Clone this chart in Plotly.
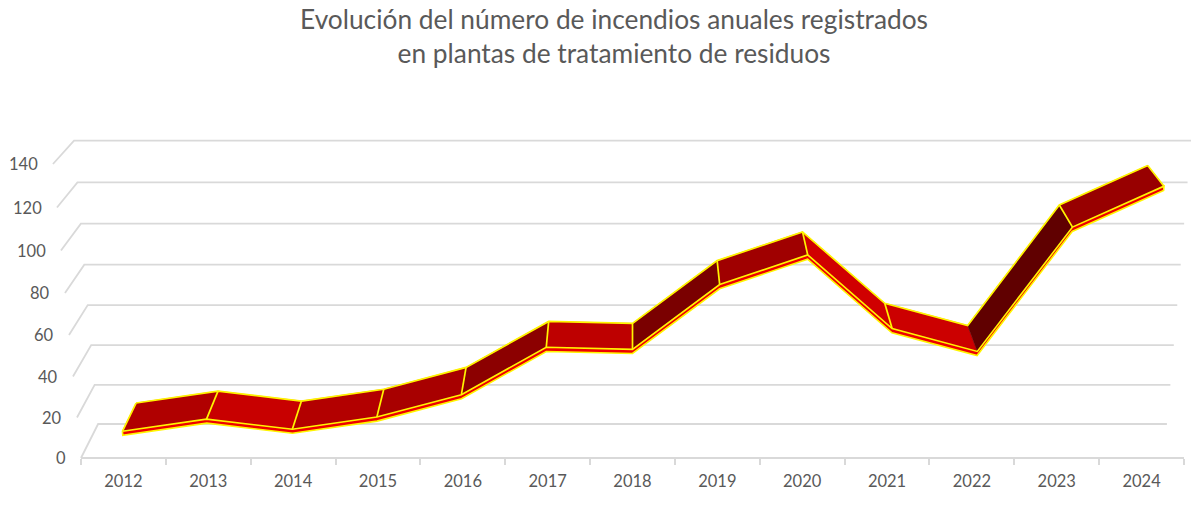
import plotly.graph_objects as go

# Annual fire counts
YEARS = ["2012", "2013", "2014", "2015", "2016", "2017", "2018",
         "2019", "2020", "2021", "2022", "2023", "2024"]
FIRES = [11, 17, 12, 18, 29, 52, 51, 82, 96, 61, 50, 109, 128]
VALUE_TICKS = [0, 20, 40, 60, 80, 100, 120, 140]
TITLE = "Evolución del número de incendios anuales registrados<br>en plantas de tratamiento de residuos"

# Lighting of each ribbon panel, one per pair of consecutive years
PANEL_SHADES = ["#B00000", "#C80000", "#B30000", "#A80000", "#8C0000", "#BE0000",
                "#7A0000", "#A00000", "#D00000", "#CC0000", "#600000", "#980000"]

GRID = "#D9D9D9"
TEXT = "#595959"
EDGE = "#FFF500"
FRONT_FACE = "#EE0000"

N = len(YEARS)
CENTRE = N / 2
RIBBON_FRONT, RIBBON_BACK = 0.075, 0.925  # depth range of the ribbon within the box
BAND = 1.0                                 # half height of the ribbon's front face, in value units
UNSHADED_JOINTS = {10}                     # joint without an edge line (2022)


def project(u, v, d):
    """Perspective view of (category position, value, depth 0..1) onto the x/y axes."""
    shrink = 1 - (0.031 + 0.000038 * v) * d
    x = CENTRE + (u - CENTRE) * (1 + 0.000363 * v) * shrink
    y = 17 * d + (1.00625 * v + 0.0003125 * v * v) * shrink
    return x, y


def polyline(points):
    return [p[0] for p in points], [p[1] for p in points]


fig = go.Figure()

# Floor and gridlines: side wall running back from the front, then across the back wall
gx, gy = polyline([project(0, 0, 0), project(N, 0, 0)])
gx, gy = list(gx) + [None], list(gy) + [None]
for v in VALUE_TICKS:
    pts = [project(0, v, 0), project(0, v, 1), project(N, v, 1)]
    xs, ys = polyline(pts)
    gx += xs + [None]
    gy += ys + [None]
fig.add_trace(go.Scatter(x=gx, y=gy, mode="lines", hoverinfo="skip",
                         line=dict(color=GRID, width=1.8), showlegend=False))

centres = [i + 0.5 for i in range(N)]
front_top = [project(u, v + BAND, RIBBON_FRONT) for u, v in zip(centres, FIRES)]
front_low = [project(u, v - BAND, RIBBON_FRONT) for u, v in zip(centres, FIRES)]
back = [project(u, v + BAND, RIBBON_BACK) for u, v in zip(centres, FIRES)]

# Top surface of the ribbon, one shaded panel per year-to-year step
for i, shade in enumerate(PANEL_SHADES):
    xs, ys = polyline([front_top[i], front_top[i + 1], back[i + 1], back[i], front_top[i]])
    fig.add_trace(go.Scatter(x=xs, y=ys, mode="lines", fill="toself", fillcolor=shade,
                             hoverinfo="skip", showlegend=False,
                             line=dict(color=shade, width=0.5)))

# Edges: back rim and the joints between panels
ex, ey = polyline(back)
ex, ey = list(ex) + [None], list(ey) + [None]
for i in range(N):
    if i in UNSHADED_JOINTS:
        continue
    xs, ys = polyline([front_top[i], back[i]])
    ex += xs + [None]
    ey += ys + [None]
fig.add_trace(go.Scatter(x=ex, y=ey, mode="lines", hoverinfo="skip",
                         showlegend=False, line=dict(color=EDGE, width=1.7)))

# Thin front face of the ribbon
xs, ys = polyline(front_top + front_low[::-1] + [front_top[0]])
fig.add_trace(go.Scatter(x=xs, y=ys, mode="lines", fill="toself", fillcolor=FRONT_FACE,
                         hoverinfo="skip", showlegend=False,
                         line=dict(color=EDGE, width=1.6)))

# Value labels follow the slanted front edge of the side wall
annotations = []
for v in VALUE_TICKS:
    x, y = project(0, v, 0)
    annotations.append(dict(x=x, y=y, xref="x", yref="y", text=str(v), showarrow=False,
                            xanchor="right", yanchor="middle", xshift=-13,
                            font=dict(family="Lato", size=16.5, color=TEXT)))

# One category step is 84.85 px and one value unit on the y axis is 2 px
PX_PER_CAT = 1103 / N
fig.update_layout(
    width=1200, height=511,
    margin=dict(l=0, r=0, t=0, b=0),
    paper_bgcolor="white", plot_bgcolor="white",
    showlegend=False,
    annotations=annotations,
    title=dict(text=TITLE, x=0.5117, xanchor="center", xref="paper",
               y=0.944, yanchor="top", yref="container",
               font=dict(family="Lato", size=26.3, color=TEXT)),
    xaxis=dict(range=[-81 / PX_PER_CAT, 1119 / PX_PER_CAT], showgrid=False, zeroline=False,
               showline=False, anchor="free", position=53 / 511,
               tickmode="array", tickvals=centres, ticktext=YEARS,
               ticks="outside", ticklen=0, ticklabelstandoff=8,
               tickfont=dict(family="Lato", size=16.5, color=TEXT),
               minor=dict(tickmode="array", tickvals=list(range(N + 1)),
                          ticks="outside", ticklen=6, tickcolor=GRID, tickwidth=1.5,
                          showgrid=False)),
    yaxis=dict(range=[-26.5, 229], visible=False),
)

fig.write_html("out.html")
